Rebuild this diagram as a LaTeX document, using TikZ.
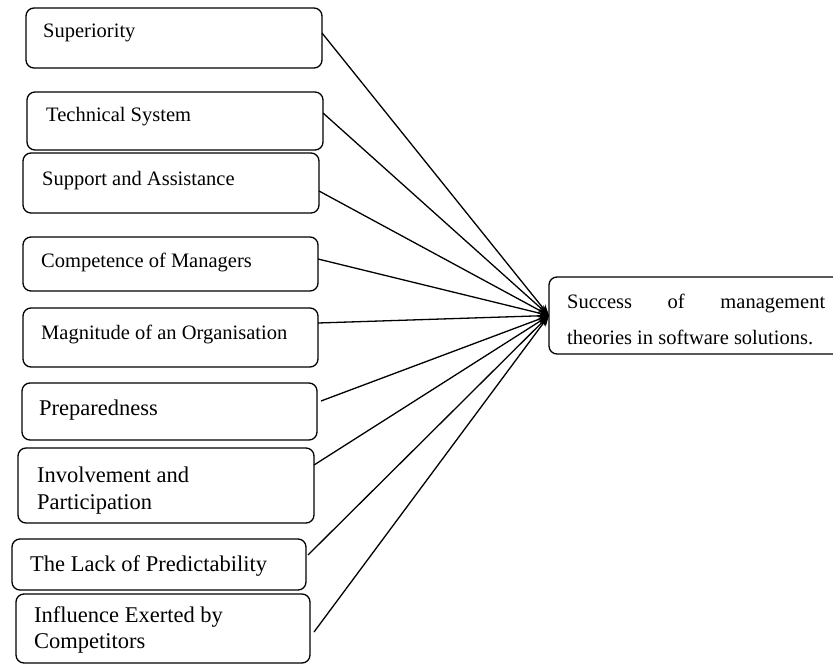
\documentclass[tikz,border=0pt]{standalone}
\usepackage{fontspec}
\setmainfont{Liberation Serif}
\usetikzlibrary{arrows.meta,calc}
\begin{document}
\begin{tikzpicture}[x=1bp,y=-1bp,
  box/.style={draw, line width=1.3bp, rounded corners=8bp, inner sep=0pt, outer sep=0pt, anchor=north west},
  lbl/.style={inner sep=0pt, anchor=base west, font=\fontsize{20.5bp}{24bp}\selectfont},
  lblb/.style={inner sep=0pt, anchor=base west, font=\fontsize{22.5bp}{27bp}\selectfont},
  link/.style={line width=1.3bp, -{Stealth[length=11bp,width=8bp]}}]
\useasboundingbox (0,0) rectangle (833,669);
% boxes
\node[box, minimum width=296bp, minimum height=60bp] (b1) at (26,8) {};
\node[box, minimum width=296bp, minimum height=58bp] (b2) at (27,92) {};
\node[box, minimum width=296bp, minimum height=60bp] (b3) at (23,153) {};
\node[box, minimum width=295bp, minimum height=54bp] (b4) at (23,237) {};
\node[box, minimum width=295bp, minimum height=59bp] (b5) at (23,308) {};
\node[box, minimum width=295bp, minimum height=57bp] (b6) at (22,383) {};
\node[box, minimum width=296bp, minimum height=75bp] (b7) at (18,448) {};
\node[box, minimum width=294bp, minimum height=51bp] (b8) at (12,539) {};
\node[box, minimum width=294bp, minimum height=69bp] (b9) at (16,594) {};
\node[box, minimum width=300bp, minimum height=77bp] (tg) at (549,277) {};
% labels
\node[lbl] (t1) at (43,38) {Superiority};
\node[lbl] (t2) at (46,122) {Technical System};
\node[lbl] (t3) at (42,185) {Support and Assistance};
\node[lbl] (t4) at (41,267) {Competence of Managers};
\node[lbl] (t5) at (41,339) {Magnitude of an Organisation};
\node[lblb] (t6) at (39,415) {Preparedness};
\node[lblb] (t7a) at (37,482) {Involvement and};
\node[lblb] (t7b) at (37,509) {Participation};
\node[lblb] (t8) at (30,571) {The Lack of Predictability};
\node[lblb] (t9a) at (34,622) {Influence Exerted by};
\node[lblb] (t9b) at (34,648) {Competitors};
\node[lbl] (t10a) at (567,308) {\makebox[258bp][s]{Success\hfill of\hfill management}};
\node[lbl] (t10b) at (567,344) {theories in software solutions.};
% connectors
\draw[link] ($(b1.north east)+(0,25)$) -- (tg.west);
\draw[link] ($(b2.north east)+(0,21)$) -- (tg.west);
\draw[link] ($(b3.north east)+(0,38)$) -- (tg.west);
\draw[link] ($(b4.north east)+(0,22)$) -- (tg.west);
\draw[link] ($(b5.north east)+(0,15)$) -- (tg.west);
\draw[link] ($(b6.north east)+(4,18)$) -- (tg.west);
\draw[link] ($(b7.north east)+(0,17)$) -- (tg.west);
\draw[link] ($(b8.north east)+(2,16)$) -- (tg.west);
\draw[link] ($(b9.north east)+(4,38)$) -- (tg.west);
\end{tikzpicture}
\end{document}
